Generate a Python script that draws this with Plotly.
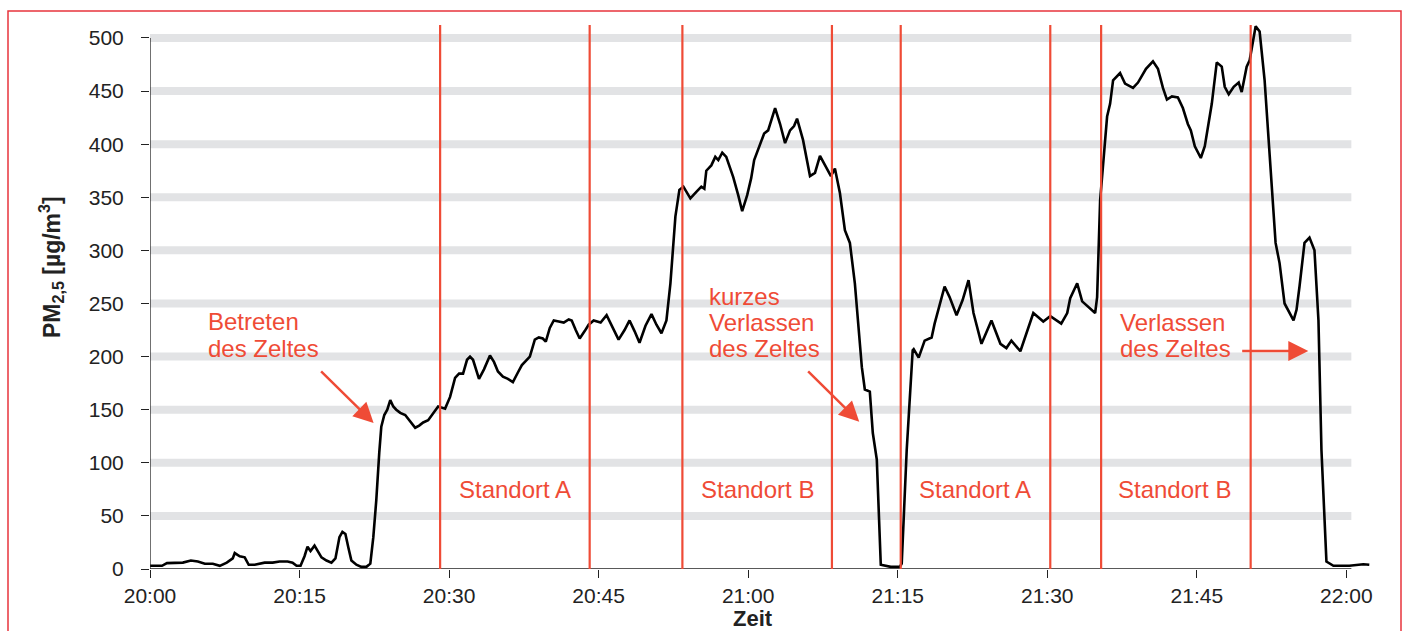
import plotly.graph_objects as go

# ---- data: minutes after 20:00 and PM2.5 values ----
minutes = [0.0, 0.6, 1.2, 1.7, 2.5, 3.3, 4.1, 4.8, 5.5, 6.3, 7.0, 7.7, 8.3, 8.5, 9.0, 9.5, 9.9,
           10.5, 11.5, 12.3, 13.0, 13.8, 14.3, 14.7, 15.1, 15.5, 15.8, 16.1, 16.5, 16.8, 17.2,
           17.7, 18.2, 18.6, 19.0, 19.3, 19.6, 19.9, 20.2, 20.7, 21.2, 21.7, 22.1, 22.4, 22.7,
           23.0, 23.2, 23.5, 23.8, 24.1, 24.4, 24.7, 25.1, 25.6, 26.0, 26.6, 27.0, 27.4, 27.9,
           28.4, 28.9, 29.6, 30.1, 30.6, 31.0, 31.4, 31.8, 32.1, 32.4, 33.0, 33.5, 34.1, 34.5,
           34.9, 35.4, 35.9, 36.4, 36.9, 37.3, 37.7, 38.1, 38.6, 39.0, 39.4, 39.7, 40.1, 40.5,
           41.0, 41.5, 42.0, 42.3, 42.7, 43.1, 43.6, 44.0, 44.5, 45.2, 45.8, 46.4, 47.0, 47.6,
           48.1, 48.6, 49.1, 49.7, 50.3, 50.8, 51.3, 51.8, 52.2, 52.7, 53.1, 53.5, 54.2, 54.8,
           55.3, 55.6, 55.8, 56.3, 56.7, 57.0, 57.4, 57.8, 58.5, 59.0, 59.4, 59.9, 60.3, 60.6,
           61.1, 61.6, 62.0, 62.7, 63.2, 63.7, 64.2, 64.6, 64.9, 65.5, 66.2, 66.7, 67.2, 67.7,
           68.3, 68.7, 69.2, 69.7, 70.2, 70.7, 71.1, 71.4, 71.7, 72.2, 72.5, 72.9, 73.3, 74.3,
           75.2, 75.4, 75.9, 76.5, 76.6, 77.1, 77.7, 78.4, 78.7, 79.2, 79.7, 80.2, 80.9, 81.5,
           82.1, 82.6, 83.4, 84.4, 85.3, 85.9, 86.4, 87.3, 88.6, 89.6, 90.3, 91.4, 92.0, 92.3,
           93.0, 93.5, 94.1, 94.8, 95.0, 95.3, 96.0, 96.3, 96.6, 97.1, 97.3, 97.8, 98.6, 99.1,
           99.9, 100.6, 101.1, 101.6, 102.0, 102.5, 103.1, 103.6, 104.1, 104.4, 104.8, 105.4,
           105.8, 106.5, 107.0, 107.5, 107.8, 108.2, 108.7, 109.2, 109.5, 110.0, 110.3, 110.9,
           111.3, 111.8, 112.3, 112.6, 112.9, 113.3, 113.8, 114.7, 115.0, 115.3, 115.8, 116.3,
           116.8, 117.2, 117.5, 118.0, 118.7, 120.3, 121.7, 122.3]
pm25 = [3, 3, 3, 5.5, 6, 6, 8, 7, 5, 5, 3, 6, 10, 15, 12, 11, 4,
        4, 6, 6, 7, 7, 6, 3, 3, 12, 21, 17, 22, 17, 11,
        8, 6, 10, 30, 35, 33, 20, 8, 4, 2, 2, 5, 30, 65,
        110, 134, 145, 150, 159, 153, 150, 147, 145, 140, 133, 135, 138, 140,
        147, 153, 151, 162, 180, 184, 184, 197, 200, 197, 179, 188, 201, 195,
        186, 181, 179, 176, 185, 192, 196, 200, 216, 218, 217, 214, 227, 234,
        233, 232, 235, 234, 225, 217, 224, 230, 234, 232, 239, 228, 216, 225,
        234, 224, 213, 229, 240, 230, 222, 234, 269, 332, 357, 360, 349, 355,
        360, 358, 375, 380, 388, 385, 392, 388, 369, 352, 337, 352, 368, 385,
        398, 410, 413, 434, 419, 401, 413, 417, 424, 404, 370, 373, 389, 380,
        370, 377, 354, 319, 307, 269, 220, 190, 169, 167, 128, 103, 4, 2,
        2, 5, 112, 206, 207, 199, 215, 218, 231, 249, 266, 256, 239, 253,
        272, 241, 212, 234, 212, 208, 215, 205, 241, 233, 238, 231, 241, 255,
        269, 252, 247, 241, 256, 347, 426, 438, 460, 465, 467, 457, 453, 458,
        471, 478, 471, 453, 442, 445, 444, 434, 419, 413, 398, 387,
        398, 438, 477, 473, 454, 447, 454, 458, 449, 473, 479, 511,
        506, 460, 394, 354, 307, 288, 250, 234, 244, 266, 307, 312,
        300, 234, 112, 7, 3, 3, 4.5, 4]

# phase boundaries (minutes after 20:00)
phase_lines = [29.1, 44.1, 53.4, 68.4, 75.3, 90.3, 95.4, 110.4]

# axis ticks
x_tickvals = [0, 15, 30, 45, 60, 75, 90, 105, 120]
x_ticktext = ["20:00", "20:15", "20:30", "20:45", "21:00", "21:15", "21:30", "21:45", "22:00"]
y_tickvals = [0, 50, 100, 150, 200, 250, 300, 350, 400, 450, 500]

# labels
standort_labels = ["Standort A", "Standort B", "Standort A", "Standort B"]
standort_x = [36.6, 60.9, 82.7, 102.8]
note_lines = ["Betreten", "des Zeltes", "kurzes", "Verlassen", "des Zeltes", "Verlassen", "des Zeltes"]
note_x = [5.62, 5.62, 55.84, 55.84, 55.84, 97.13, 97.13]
note_ypx = [321.7, 348.0, 296.0, 322.0, 348.0, 322.0, 348.0]

RED = "#ef4b36"
GRID = "#e2e3e5"
AX = "#222222"
FONT = "Liberation Sans, Arial, sans-serif"

# pixel geometry
L, R, T, B = 150, 33, 25, 62
W, H = 1403, 631
PW, PH = W - L - R, H - T - B
XMAX = 122.37
YMAX = 512.2


def ypx_to_val(py):
    return (T + PH - py) * YMAX / PH


fig = go.Figure()
fig.add_trace(go.Scatter(x=minutes, y=pm25, mode="lines",
                         line=dict(color="black", width=2.6), hoverinfo="skip",
                         showlegend=False))

shapes = []
# gray grid bands
for v in y_tickvals[1:]:
    shapes.append(dict(type="line", xref="x", yref="y", x0=0, x1=120.5, y0=v, y1=v,
                       line=dict(color=GRID, width=8), layer="below"))
# axis lines
shapes.append(dict(type="line", xref="x", yref="y", x0=0, x1=120.5, y0=0, y1=0,
                   line=dict(color=AX, width=1.3)))
shapes.append(dict(type="line", xref="x", yref="y", x0=0, x1=0, y0=0, y1=500,
                   line=dict(color=AX, width=1.3)))
# red phase lines
for xv in phase_lines:
    shapes.append(dict(type="line", xref="x", yref="paper", x0=xv, x1=xv, y0=0, y1=1,
                       line=dict(color=RED, width=2.2)))
# outer red frame
shapes.append(dict(type="rect", xref="paper", yref="paper",
                   x0=(8 - L) / PW, x1=(1401 - L) / PW,
                   y0=(T + PH - 660) / PH, y1=(T + PH - 11) / PH,
                   line=dict(color="#e8343c", width=1.5), fillcolor="rgba(0,0,0,0)"))

annotations = []
for txt, xv in zip(standort_labels, standort_x):
    annotations.append(dict(x=xv, y=ypx_to_val(489), xref="x", yref="y", text=txt,
                            showarrow=False, xanchor="center", yanchor="middle",
                            font=dict(family=FONT, size=24, color=RED)))
for txt, xv, py in zip(note_lines, note_x, note_ypx):
    annotations.append(dict(x=xv, y=ypx_to_val(py), xref="x", yref="y", text=txt,
                            showarrow=False, xanchor="left", yanchor="middle",
                            font=dict(family=FONT, size=24, color=RED)))
# arrows (head position in data coords, tail offset in pixels)
arrow_heads = [(22.43, ypx_to_val(423)), (71.14, ypx_to_val(421.7)), (116.18, ypx_to_val(351))]
arrow_tails = [(-54, -53), (-52.6, -51.7), (-67.6, 0)]
for (hx, hy), (ax, ay) in zip(arrow_heads, arrow_tails):
    annotations.append(dict(x=hx, y=hy, xref="x", yref="y", text="", showarrow=True,
                            ax=ax, ay=ay, arrowhead=2, arrowsize=1.6, arrowwidth=2.5,
                            arrowcolor=RED, standoff=0, startstandoff=0))
# axis titles
annotations.append(dict(x=(51 - L) / PW, y=(T + PH - 267) / PH, xref="paper", yref="paper",
                        text="<b>PM<sub>2,5</sub> [µg/m<sup>3</sup>]</b>", textangle=-90,
                        showarrow=False, xanchor="center", yanchor="middle",
                        font=dict(family=FONT, size=23, color=AX)))
annotations.append(dict(x=(753 - L) / PW, y=(T + PH - 618) / PH, xref="paper", yref="paper",
                        text="<b>Zeit</b>", showarrow=False, xanchor="center", yanchor="middle",
                        font=dict(family=FONT, size=22, color=AX)))

fig.update_layout(
    width=W, height=H,
    margin=dict(l=L, r=R, t=T, b=B, pad=0),
    paper_bgcolor="white", plot_bgcolor="white",
    shapes=shapes, annotations=annotations,
    xaxis=dict(range=[0, XMAX], tickvals=x_tickvals, ticktext=x_ticktext,
               showgrid=False, zeroline=False, showline=False,
               ticks="outside", ticklen=8, tickwidth=1.3, tickcolor=AX,
               tickfont=dict(family=FONT, size=21, color=AX)),
    yaxis=dict(range=[0, YMAX], tickvals=y_tickvals,
               showgrid=False, zeroline=False, showline=False,
               ticks="outside", ticklen=8, tickwidth=1.3, tickcolor=AX,
               tickfont=dict(family=FONT, size=21, color=AX), ticklabelstandoff=13),
)

fig.write_html("out.html", config={"displayModeBar": False},
               post_script="document.body.style.margin='0';document.body.style.overflow='hidden';")
